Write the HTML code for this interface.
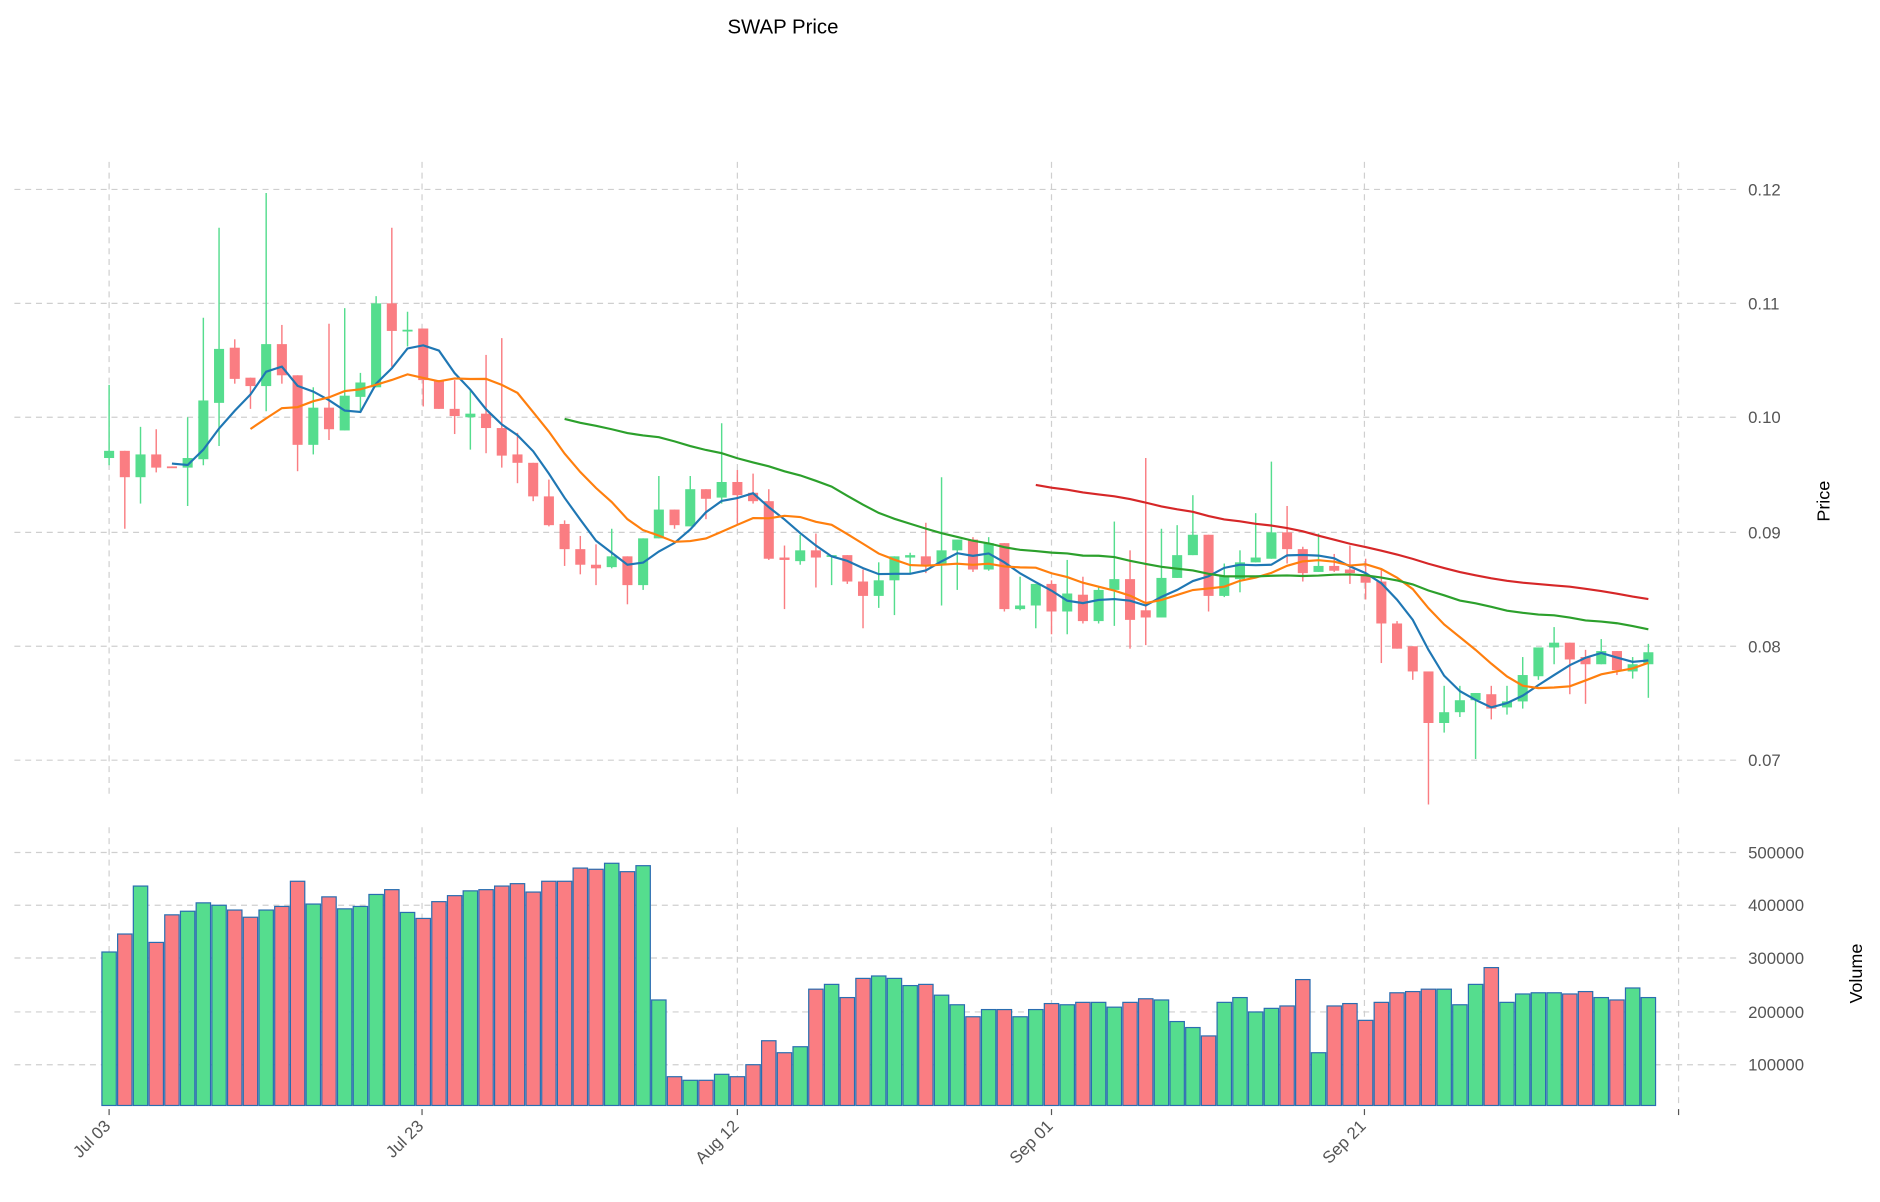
<!DOCTYPE html>
<html><head><meta charset="utf-8"><style>
html,body{margin:0;padding:0;background:#fff}
svg{display:block}
text{font-family:"Liberation Sans","DejaVu Sans",sans-serif}
</style></head><body>
<svg id="s" width="1880" height="1202" viewBox="0 0 1568 1002.5" preserveAspectRatio="none" xmlns="http://www.w3.org/2000/svg"></svg>
<script>
const C=[
[376,382,321,388,'g'],[376,398,376,441,'r'],[379,398,356,420,'g'],[379,390,358,394,'r'],[389,390,389,390,'r'],
[382,390,348,422,'g'],[334,383,265,388,'g'],[291,336,190,372,'g'],[290,316,283,320,'r'],[315,322,315,341,'r'],
[287,322,161,343,'g'],[287,313,271,320,'r'],[313,371,313,393,'r'],[340,371,323,379,'g'],[340,358,270,367,'r'],
[330,359,257,359,'g'],[319,331,311,343,'g'],[253,323,247,323,'g'],[253,276,190,306,'r'],[275,276,260,289,'g'],
[274,317,274,339,'r'],[317,341,317,341,'r'],[341,347,317,362,'r'],[345,348,325,375,'g'],[345,357,296,378,'r'],
[357,380,282,390,'r'],[379,386,361,403,'r'],[386,414,386,418,'r'],[414,438,400,439,'r'],[437,458,434,472,'r'],
[458,471,447,479,'r'],[471,474,454,488,'r'],[464,473,441,474,'g'],[464,488,464,504,'r'],[449,488,449,492,'g'],
[425,449,397,449,'g'],[425,438,425,441,'r'],[408,439,397,439,'g'],[408,416,408,433,'r'],[402,415,353,420,'g'],
[402,413,392,437,'r'],[411,418,395,420,'r'],[418,466,408,467,'r'],[465,467,455,508,'r'],[459,468,446,471,'g'],
[459,465,445,490,'r'],[463,464,463,488,'g'],[463,485,463,487,'r'],[485,497,475,524,'r'],[484,497,469,507,'g'],
[464,484,464,513,'g'],[463,465,461,478,'g'],[464,471,436,478,'r'],[459,471,398,505,'g'],[450,459,450,492,'g'],
[450,475,448,477,'r'],[453,475,448,476,'g'],[453,508,453,510,'r'],[505,508,481,509,'g'],[487,505,487,524,'g'],
[487,510,484,529,'r'],[495,510,467,529,'g'],[496,518,481,520,'r'],[492,518,490,520,'g'],[483,492,435,522,'g'],
[483,517,459,541,'r'],[509,515,382,538,'r'],[482,515,441,515,'g'],[463,482,438,482,'g'],[446,463,413,463,'g'],
[446,497,446,510,'r'],[480,497,470,498,'g'],[469,483,459,494,'g'],[465,469,428,469,'g'],[444,466,385,466,'g'],
[444,458,422,470,'r'],[458,478,456,485,'r'],[472,477,445,477,'g'],[472,476,462,477,'r'],[475,478,455,487,'r'],
[480,486,466,500,'r'],[485,520,475,553,'r'],[520,541,518,541,'r'],[539,560,539,567,'r'],[560,603,560,671,'r'],
[594,603,572,611,'g'],[584,594,572,598,'g'],[578,584,578,633,'g'],[579,591,572,600,'r'],[585,590,572,596,'g'],
[563,585,548,591,'g'],[540,564,540,567,'g'],[536,540,523,554,'g'],[536,550,536,579,'r'],[548,554,542,587,'r'],
[543,554,533,554,'g'],[543,559,543,563,'r'],[554,560,548,566,'g'],[544,554,537,582,'g']];
const V=[794,779,739,786,763,760,753,755,759,765,759,756,735,754,748,758,756,746,742,761,766,752,747,743,742,739,737,744,735,735,724,725,720,727,722,834,898,901,901,896,898,888,868,878,873,825,821,832,816,814,816,822,821,830,838,848,842,842,848,842,837,838,836,836,840,836,833,834,852,857,864,836,832,844,841,839,817,878,839,837,851,836,828,827,825,825,838,821,807,836,829,828,828,829,827,832,834,824,832];
const G='#55dd8e',R='#fa7d82';
const X=i=>91+13.1*i;
let s='';
// grid
const gl='stroke="#cfcfcf" stroke-width="1" stroke-dasharray="5,4"';
const py=[[158,'0.12'],[253,'0.11'],[348,'0.10'],[444,'0.09'],[539,'0.08'],[634,'0.07']];
for(const [y,t] of py){s+=`<line x1="12" x2="1450" y1="${y}" y2="${y}" ${gl}/><text x="1458" y="${y+5}" font-size="14" fill="#555">${t}</text>`;}
const vy=[[711,'500000'],[755,'400000'],[799,'300000'],[844,'200000'],[888,'100000']];
for(const [y,t] of vy){s+=`<line x1="12" x2="1450" y1="${y}" y2="${y}" ${gl}/><text x="1458" y="${y+5}" font-size="14" fill="#555">${t}</text>`;}
const dx=[[91,'Jul 03'],[352,'Jul 23'],[615,'Aug 12'],[877,'Sep 01'],[1138,'Sep 21'],[1400,'']];
for(const [x,t] of dx){
 s+=`<line x1="${x}" x2="${x}" y1="135" y2="662" ${gl}/><line x1="${x}" x2="${x}" y1="690" y2="922" ${gl}/>`;
 s+=`<line x1="${x}" x2="${x}" y1="925" y2="930" stroke="#555"/>`;
 if(t)s+=`<text x="${x+2}" y="940" font-size="14" fill="#555" text-anchor="end" transform="rotate(-45 ${x+2} 940)">${t}</text>`;
}
// volume
V.forEach((v,i)=>{const c=C[i][4]=='g'?G:R;s+=`<rect x="${X(i)-6}" y="${v}" width="12" height="${922-v}" fill="${c}" stroke="#2a6db0" stroke-width="1"/>`;});
// candles
C.forEach((d,i)=>{const c=d[4]=='g'?G:R;const x=X(i);
 s+=`<line x1="${x}" x2="${x}" y1="${d[2]}" y2="${d[3]}" stroke="${c}" stroke-width="1.2"/>`;
 s+=`<rect x="${x-4.2}" y="${d[0]}" width="8.4" height="${Math.max(1.5,d[1]-d[0])}" fill="${c}"/>`;});
// MAs
const cl=C.map(d=>d[4]=='g'?d[0]:d[1]);
function ma(n,col){let p=[];for(let i=n-1;i<cl.length;i++){let a=0;for(let k=i-n+1;k<=i;k++)a+=cl[k];p.push(X(i).toFixed(1)+','+(a/n).toFixed(1));}
 s+=`<polyline points="${p.join(' ')}" fill="none" stroke="${col}" stroke-width="1.8"/>`;}
ma(5,'#1f77b4');ma(10,'#ff7f0e');ma(30,'#2ca02c');ma(60,'#d62728');
s+=`<text x="653" y="28" font-size="17" fill="#000" text-anchor="middle">SWAP Price</text>`;
s+=`<text x="1526" y="418" font-size="15" fill="#000" text-anchor="middle" transform="rotate(-90 1526 418)">Price</text>`;
s+=`<text x="1553" y="812" font-size="15" fill="#000" text-anchor="middle" transform="rotate(-90 1553 812)">Volume</text>`;
document.getElementById('s').innerHTML=s;
</script>
</body></html>
